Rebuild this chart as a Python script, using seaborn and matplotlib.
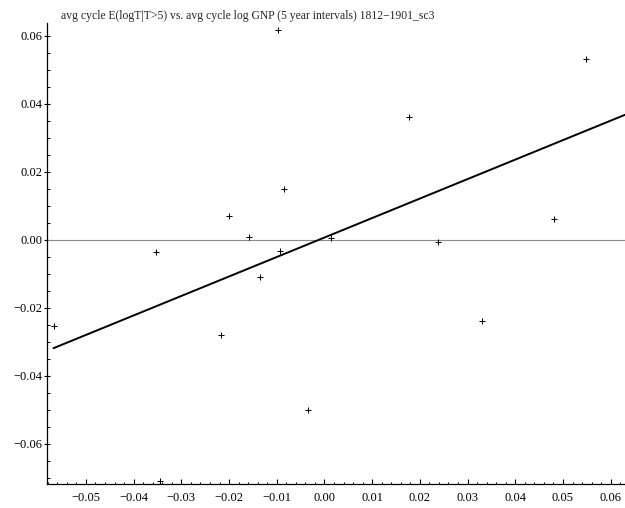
import numpy as np
import pandas as pd
import matplotlib
matplotlib.use("Agg")
import matplotlib.pyplot as plt
from matplotlib.ticker import MultipleLocator, FuncFormatter
import seaborn as sns

# avg cycle log GNP (x) vs avg cycle E(logT|T>5) (y)
gnp = [-0.0568, -0.0354, -0.0345, -0.0217, -0.0201, -0.0159, -0.0136, -0.0097, -0.0093,
       -0.0084, -0.0034, 0.0013, 0.0178, 0.0238, 0.0331, 0.0481, 0.0548]
elogt = [-0.0252, -0.0037, -0.0708, -0.0280, 0.0069, 0.0010, -0.0109, 0.0618, -0.0032,
         0.0151, -0.0500, 0.0005, 0.0362, -0.0005, -0.0239, 0.0061, 0.0531]

# fitted line as drawn in the chart
fit_slope = 0.573
fit_intercept = 0.0007

title = "avg cycle E(logT|T>5) vs. avg cycle log GNP (5 year intervals) 1812\u22121901_sc3"

df = pd.DataFrame({"gnp": gnp, "elogt": elogt})

sns.set_style("ticks")
plt.rcParams["font.family"] = ["Liberation Serif", "DejaVu Serif"]


def fmt(v, pos):
    s = "%.2f" % (0.0 if abs(v) < 1e-9 else v)
    return s.replace("-", "\u2212")


fig = plt.figure(figsize=(6.25, 5.08), dpi=100)
ax = fig.add_axes([47.3 / 625, 24 / 508, 1 - 47.3 / 625, 461 / 508])

xmin, xmax = -0.0581, 0.0630
ymin, ymax = -0.0718, 0.0638
ax.set_xlim(xmin, xmax)
ax.set_ylim(ymin, ymax)

ax.axhline(0, color="#8c8c8c", lw=0.8, zorder=1)

fit_x = np.array([df["gnp"].min(), xmax])
fit_df = pd.DataFrame({"x": fit_x, "y": fit_slope * fit_x + fit_intercept})
sns.lineplot(data=fit_df, x="x", y="y", color="black", lw=1.4, ax=ax, zorder=3)

sns.scatterplot(data=df, x="gnp", y="elogt", marker="+", s=16, color="black",
                linewidth=0.75, ax=ax, zorder=4)

ax.set_xlabel("")
ax.set_ylabel("")
sns.despine(ax=ax)
for s in ["left", "bottom"]:
    ax.spines[s].set_color("black")
    ax.spines[s].set_linewidth(0.9)

ax.xaxis.set_major_locator(MultipleLocator(0.01))
ax.xaxis.set_minor_locator(MultipleLocator(0.002))
ax.yaxis.set_major_locator(MultipleLocator(0.02))
ax.yaxis.set_minor_locator(MultipleLocator(0.005))
ax.xaxis.set_major_formatter(FuncFormatter(fmt))
ax.yaxis.set_major_formatter(FuncFormatter(fmt))

ax.tick_params(axis="y", which="major", direction="inout", length=4.3, width=0.8,
               pad=1.5, labelsize=9, colors="black")
ax.tick_params(axis="y", which="minor", direction="in", length=2.2, width=0.7, colors="black")
ax.tick_params(axis="x", which="major", direction="in", length=3.6, width=0.8,
               pad=6, labelsize=9, colors="black")
ax.tick_params(axis="x", which="minor", direction="in", length=1.8, width=0.7, colors="black")

fig.text(61 / 625, 1 - 19.5 / 508, title, ha="left", va="baseline", fontsize=8.35)

fig.savefig("out.png", dpi=100)
